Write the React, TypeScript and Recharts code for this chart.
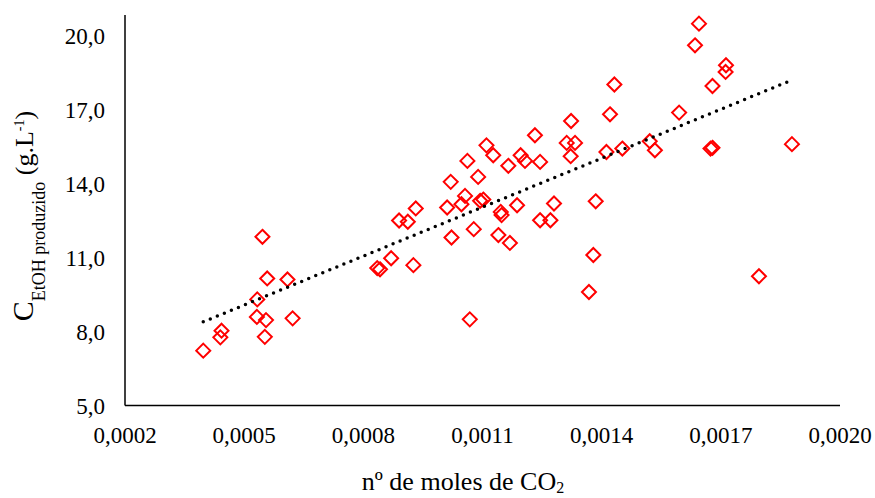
import React from "react";
import { ScatterChart, Scatter, XAxis, YAxis } from "recharts";

// nº de moles de CO2 (x) vs C EtOH produzido (y)
const co2Moles = [
  0.000397, 0.00044, 0.000443, 0.000532, 0.000533, 0.000546, 0.000555, 0.000552, 0.000558, 0.000609,
  0.000622, 0.000835, 0.000842, 0.00087, 0.000926, 0.00089, 0.000912, 0.000932, 0.001011, 0.00102,
  0.001022, 0.001047, 0.001056, 0.001062, 0.001068, 0.001078, 0.001089, 0.001094, 0.001102, 0.00111,
  0.001127, 0.00114, 0.001146, 0.001148, 0.001165, 0.001169, 0.001187, 0.001196, 0.001207, 0.001232,
  0.001245, 0.001245, 0.001271, 0.00128, 0.001312, 0.001323, 0.001322, 0.001333, 0.001368, 0.001379,
  0.001385, 0.001412, 0.001421, 0.001432, 0.001452, 0.001521, 0.001534, 0.001595, 0.001635, 0.001645,
  0.001674, 0.001679, 0.001679, 0.001713, 0.001712, 0.001796, 0.001879,
];
const ethanol = [
  7.23, 7.77, 8.04, 8.6, 9.31, 11.85, 8.47, 7.79, 10.16, 10.12,
  8.54, 10.58, 10.53, 10.98, 10.7, 12.51, 12.46, 13.0, 13.04, 14.08,
  11.82, 13.17, 13.51, 14.93, 8.5, 12.16, 14.28, 13.31, 13.36, 15.56,
  15.16, 11.92, 12.86, 12.73, 14.73, 11.6, 13.13, 15.16, 14.93, 15.97,
  14.89, 12.52, 12.52, 13.2, 15.66, 16.55, 15.12, 15.66, 9.61, 11.11,
  13.29, 15.29, 16.82, 18.03, 15.43, 15.73, 15.36, 16.89, 19.62, 20.5,
  15.43, 15.46, 17.97, 18.81, 18.54, 10.25, 15.61,
];

// linear trendline ends
const trendX = [0.000397, 0.001879];
const trendY = [8.4, 18.21];

const xTicks = [0.0002, 0.0005, 0.0008, 0.0011, 0.0014, 0.0017, 0.002];
const yTicks = [5, 8, 11, 14, 17, 20];

const points = co2Moles.map((x, i) => ({ x, y: ethanol[i] }));
const trend = trendX.map((x, i) => ({ x, y: trendY[i] }));

const font = "'Liberation Serif', 'Times New Roman', serif";

const Diamond = (props: any) => {
  const { cx, cy } = props;
  const r = 7;
  return (
    <path
      d={`M${cx},${cy - r}L${cx + r},${cy}L${cx},${cy + r}L${cx - r},${cy}Z`}
      fill="none"
      stroke="#FF0000"
      strokeWidth={2}
    />
  );
};

const YTitle = () => (
  <text transform="translate(33,216) rotate(-90)" textAnchor="middle" fontFamily={font} fill="#000">
    <tspan fontSize={30}>C</tspan>
    <tspan fontSize={18} dy={12}>EtOH produzido</tspan>
    <tspan fontSize={26} dy={-12}> (g.L</tspan>
    <tspan fontSize={14} dy={-9}>-1</tspan>
    <tspan fontSize={26} dy={9}>)</tspan>
  </text>
);

const XTitle = () => (
  <text x={463} y={490} textAnchor="middle" fontFamily={font} fontSize={26} fill="#000">
    nº de moles de CO<tspan fontSize={16} dy={3}>2</tspan>
  </text>
);

export default function App() {
  return (
    <div style={{ position: "absolute", left: 0, top: 0, width: 875, height: 498, background: "#fff" }}>
      <ScatterChart width={875} height={498} margin={{ top: 15, right: 35, left: 0, bottom: 0 }}>
        <XAxis
          type="number"
          dataKey="x"
          domain={[0.0002, 0.002]}
          ticks={xTicks}
          allowDataOverflow
          height={92.4}
          tickLine={false}
          tickMargin={15}
          axisLine={{ stroke: "#000", strokeWidth: 1.5 }}
          tick={{ fill: "#000", fontSize: 23, fontFamily: font }}
          tickFormatter={(v: number) => v.toFixed(4).replace(".", ",")}
          label={<XTitle />}
        />
        <YAxis
          type="number"
          dataKey="y"
          domain={[5, 20.85]}
          ticks={yTicks}
          allowDataOverflow
          width={125}
          tickLine={false}
          tickMargin={14}
          axisLine={{ stroke: "#000", strokeWidth: 1.5 }}
          tick={{ fill: "#000", fontSize: 23, fontFamily: font }}
          tickFormatter={(v: number) => v.toFixed(1).replace(".", ",")}
          label={<YTitle />}
        />
        <Scatter data={points} shape={<Diamond />} isAnimationActive={false} />
        <Scatter
          data={trend}
          shape={() => <g />}
          line={{ stroke: "#000", strokeWidth: 3.5, strokeDasharray: "0 7.6", strokeLinecap: "round" }}
          isAnimationActive={false}
        />
      </ScatterChart>
    </div>
  );
}
